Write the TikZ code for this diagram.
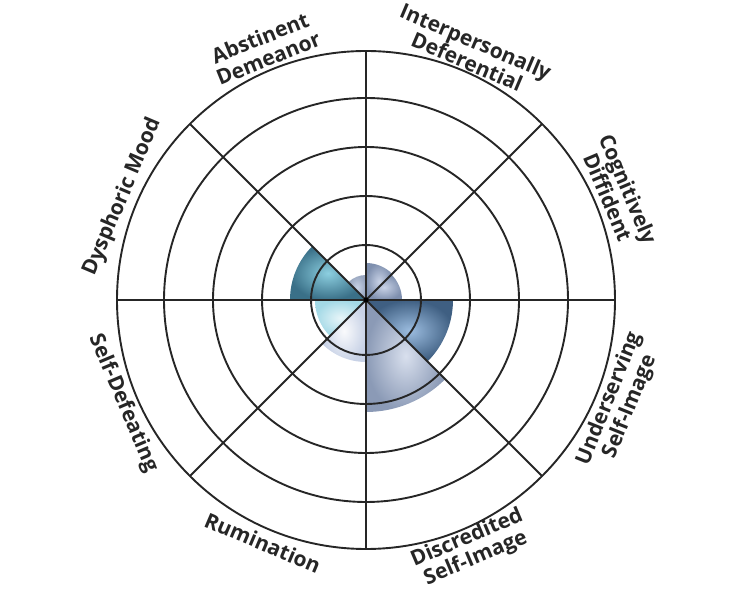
\documentclass[tikz,border=0pt]{standalone}
\usepackage{fontspec}
\setmainfont{Open Sans}
\usetikzlibrary{calc}
\begin{document}
\begin{tikzpicture}[x=1pt,y=1pt,
  lbl/.style={font=\bfseries\fontsize{21}{22}\selectfont,align=center,text=black!85,inner sep=1pt},
  ring/.style={draw=black!85,line width=1.9pt}]
\useasboundingbox (0,0) rectangle (732,600);
\coordinate (c) at (366,300);
\newcommand{\mywedge}[5]{\shade[inner color=#4,outer color=#5] (c) -- ++(#1:#3) arc[start angle=#1,end angle=#2,radius=#3] -- cycle;}
\definecolor{tealD}{HTML}{3A7088}\definecolor{tealL}{HTML}{8CCFE0}
\definecolor{slateD}{HTML}{3F5F82}\definecolor{slateL}{HTML}{9CBDE0}
\definecolor{purD}{HTML}{7E8FAE}\definecolor{purL}{HTML}{C8D2E6}
\mywedge{135}{180}{76}{tealL}{tealD}
\mywedge{90}{135}{25}{purL}{purD!80}
\mywedge{45}{90}{37}{purL}{purD}
\mywedge{0}{45}{36}{purL}{purD}
\mywedge{-45}{0}{87}{slateL}{slateD}
\mywedge{-90}{-45}{112}{purL!70!white}{purD!90}
\mywedge{-135}{-90}{62}{white!90!purL}{purL}
\mywedge{-180}{-135}{51}{white!80!tealL}{tealL!80}
\foreach \r in {55,104,153,202,249} \draw[ring] (c) circle (\r);
\foreach \a in {0,45,...,315} \draw[ring] (c) -- ++(\a:249);
\fill[black] (c) circle (2.5);
\node[lbl,rotate=22] (l1) at ($(c)+(112:272)$) {Abstinent\\Demeanor};
\node[lbl,rotate=-23] (l2) at ($(c)+(67:270)$) {Interpersonally\\Deferential};
\node[lbl,rotate=-67] (l3) at ($(c)+(23:274)$) {Cognitively\\Diffident};
\node[lbl,rotate=68] (l4) at ($(c)+(-22:274)$) {Underserving\\Self-Image};
\node[lbl,rotate=23] (l5) at ($(c)+(-67:270)$) {Discredited\\Self-Image};
\node[lbl,rotate=-23] (l6) at ($(c)+(-113:264)$) {Rumination};
\node[lbl,rotate=-67] (l7) at ($(c)+(-157:264)$) {Self-Defeating};
\node[lbl,rotate=67] (l8) at ($(c)+(157:264)$) {Dysphoric Mood};
\end{tikzpicture}
\end{document}
